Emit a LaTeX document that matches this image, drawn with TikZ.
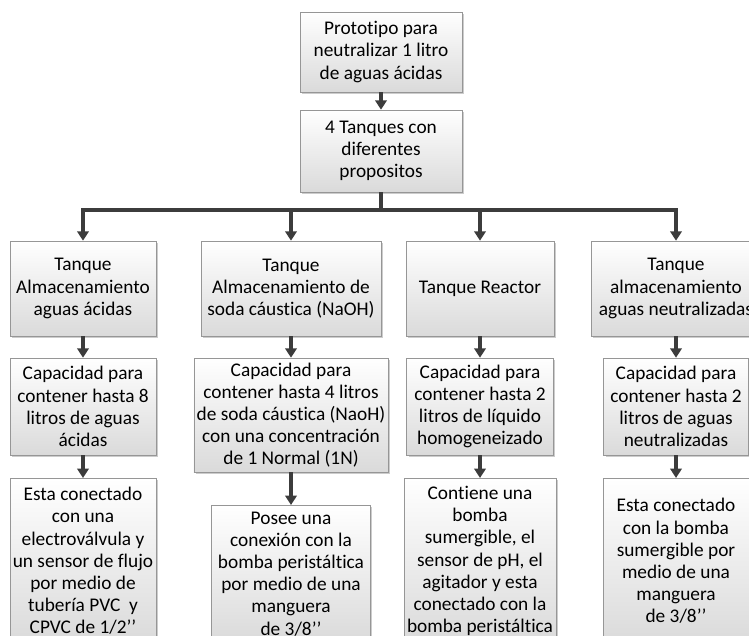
\documentclass[tikz,border=0pt]{standalone}
\usepackage{fontspec}
\setmainfont{Carlito}[Ligatures={TeX,NoCommon}]
\usepackage{tikz}
\usetikzlibrary{arrows.meta, shadows}
\usepackage{xcolor}
\definecolor{boxline}{RGB}{150, 150, 150}
\definecolor{boxfill}{RGB}{218, 218, 218}
\definecolor{arrowc}{RGB}{60, 60, 60}

\begin{document}
\begin{tikzpicture}[x=0.75pt, y=-0.75pt, >={Triangle[width=8.5pt, length=7pt]},
  font=\fontsize{14.5}{16.6}\selectfont,
  box/.style={draw=boxline, top color=white, bottom color=boxfill, align=center, inner sep=2pt,
    drop shadow={shadow xshift=1.5pt, shadow yshift=-1.5pt, fill=black!40, opacity=0.5}},
  arr/.style={->, draw=arrowc, line width=2.3pt}]
  \useasboundingbox (0,0) rectangle (749,635);
  \clip (0,0) rectangle (749,635);

  % Top
  \node[box, minimum width=121.5pt, minimum height=60pt] (proto) at (381,52)
    {Prototipo para\\neutralizar 1 litro\\de aguas ácidas};
  \node[box, minimum width=121.5pt, minimum height=61.5pt] (tanq) at (381,151)
    {4 Tanques con\\diferentes\\propositos};
  \coordinate (bus) at (381,210);

  % Tanks
  \node[box, minimum width=109.5pt, minimum height=71.25pt] (t1) at (83,288.5)
    {Tanque\\Almacenamiento\\aguas ácidas};
  \node[box, minimum width=135pt, minimum height=71.25pt] (t2) at (291,288.5)
    {Tanque\\Almacenamiento de\\soda cáustica (NaOH)};
  \node[box, minimum width=111pt, minimum height=71.25pt] (t3) at (480,288.5)
    {Tanque Reactor};
  \node[box, minimum width=127.5pt, minimum height=71.25pt] (t4) at (676,288.5)
    {Tanque\\almacenamiento\\aguas neutralizadas};

  % Capacity
  \node[box, minimum width=109.5pt, minimum height=72.75pt] (c1) at (83,406.5)
    {Capacidad para\\contener hasta 8\\litros de aguas\\ácidas};
  \node[box, minimum width=143.25pt, minimum height=85.5pt] (c2) at (291,415)
    {Capacidad para\\contener hasta 4 litros\\de soda cáustica (NaoH)\\con una concentración\\de 1 Normal (1N)};
  \node[box, minimum width=110pt, minimum height=72.75pt] (c3) at (480,406.5)
    {Capacidad para\\contener hasta 2\\litros de líquido\\homogeneizado};
  \node[box, minimum width=108.75pt, minimum height=72.75pt] (c4) at (676,406.5)
    {Capacidad para\\contener hasta 2\\litros de aguas\\neutralizadas};

  % Connections
  \node[box, anchor=north, minimum width=109.5pt, minimum height=124pt] (d1) at (83,478)
    {Esta conectado\\con una\\electroválvula y\\un sensor de flujo\\por medio de\\tubería PVC\ \ y\\CPVC de 1/2’’};
  \node[box, anchor=north, minimum width=119pt, minimum height=103pt] (d2) at (291,505)
    {Posee una\\conexión con la\\bomba peristáltica\\por medio de una\\manguera\\de 3/8’’};
  \node[box, anchor=north, minimum width=114pt, minimum height=124pt] (d3) at (480,478)
    {Contiene una\\bomba\\sumergible, el\\sensor de pH, el\\agitador y esta\\conectado con la\\bomba peristáltica};
  \node[box, anchor=north, minimum width=109.5pt, minimum height=124pt] (d4) at (676,478)
    {Esta conectado\\con la bomba\\sumergible por\\medio de una\\manguera\\de 3/8’’};

  % Arrows
  \draw[arr] (proto.south) -- (tanq.north);
  \foreach \t in {t1,t2,t3,t4}
    \draw[arr] (tanq.south) -- (bus) -| (\t.north);
  \foreach \a/\b in {t1/c1, t2/c2, t3/c3, t4/c4, c1/d1, c2/d2, c3/d3, c4/d4}
    \draw[arr] (\a.south) -- (\b.north);
\end{tikzpicture}
\end{document}
